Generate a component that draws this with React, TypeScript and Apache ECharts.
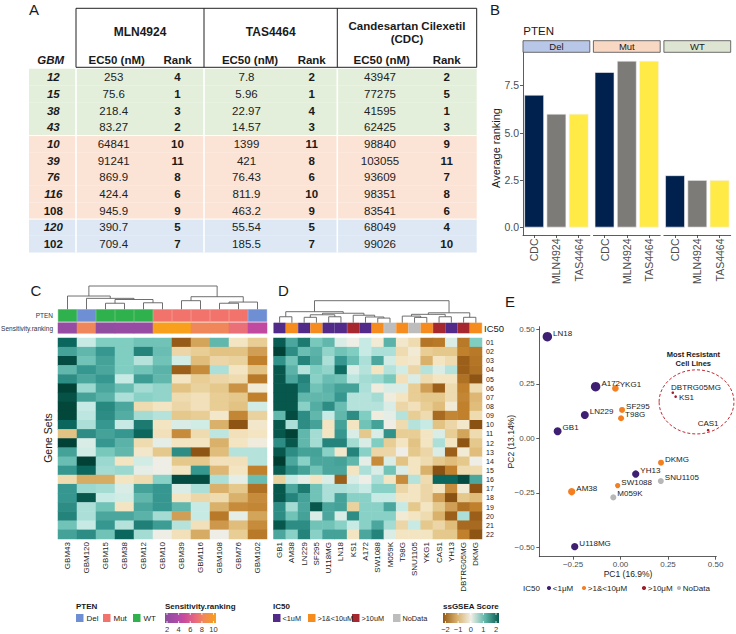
import React, { useEffect, useRef } from "react";
import * as echarts from "echarts";

const FONT = "'Liberation Sans', Arial, Helvetica, sans-serif";
const INK = "#1a1a1a";
const AXIS = "#333333";
const TICKTXT = "#4d4d4d";

// ---------------- Panel A : drug sensitivity table ----------------
const gbmIds = ["12", "15", "38", "43", "10", "39", "76", "116", "108", "120", "102"];
const gbmPten = ["WT", "WT", "WT", "WT", "Mut", "Mut", "Mut", "Mut", "Mut", "Del", "Del"];
const gbmUpright = ["108", "102"];
const mlnEC50 = [253, 75.6, 218.4, 83.27, 64841, 91241, 869.9, 424.4, 945.9, 390.7, 709.4];
const mlnRank = [4, 1, 3, 2, 10, 11, 8, 6, 9, 5, 7];
const tasEC50 = [7.8, 5.96, 22.97, 14.57, 1399, 421, 76.43, 811.9, 463.2, 55.54, 185.5];
const tasRank = [2, 1, 4, 3, 11, 8, 6, 10, 9, 5, 7];
const cdcEC50 = [43947, 77275, 41595, 62425, 98840, 103055, 93609, 98351, 83541, 68049, 99026];
const cdcRank = [2, 5, 1, 3, 9, 11, 7, 8, 6, 4, 10];
const drugHeaders = ["MLN4924", "TAS4464", "Candesartan Cilexetil", "(CDC)"];

// ---------------- Panel B : average ranking ----------------
const drugs = ["CDC", "MLN4924", "TAS4464"];
const ptenGroups = ["Del", "Mut", "WT"];
const avgRankDel = [7.0, 6.0, 6.0];
const avgRankMut = [8.2, 8.8, 8.8];
const avgRankWT = [2.75, 2.5, 2.5];
const avgRankTicks = [0, 2.5, 5, 7.5];

// ---------------- Panel C : GBM ssGSEA heatmap ----------------
const geneSets = ["01", "02", "03", "04", "05", "06", "07", "08", "09", "10", "11", "12", "13", "14", "15", "16", "17", "18", "19", "20", "21", "22"];
const cCols = ["GBM43", "GBM120", "GBM15", "GBM38", "GBM12", "GBM10", "GBM39", "GBM116", "GBM108", "GBM76", "GBM102"];
const cPten = ["WT", "Del", "WT", "WT", "WT", "Mut", "Mut", "Mut", "Mut", "Mut", "Del"];
const cSens = [2.67, 8, 2.33, 2.67, 2.67, 10, 10, 8, 8, 7, 4.67];
const cScores = [
  [1.6, 0.2, 0.6, 0.6, 0.7, 0.7, -1.6, -0.8, 0.8, -0.2, -0.45],
  [1.0, 0.8, 1.1, 0.6, 1.3, 0.75, -0.35, -0.45, -0.55, -0.55, -0.85],
  [1.85, 0.7, 1.0, 0.6, 0.3, 0.7, 0.15, -0.6, -0.35, -0.4, -1.1],
  [0.8, 1.1, 0.95, 0.6, 0.7, 0.85, -1.55, -1.0, 0.35, -0.2, -0.55],
  [1.2, 0.95, 1.1, 0.2, 1.05, 0.8, -0.2, -0.45, -0.35, -0.3, -1.2],
  [1.95, 0.45, 0.95, 0.75, 0.4, 0.5, -0.55, -0.4, -0.5, -0.95, -0.1],
  [1.8, 1.0, 0.85, 0.35, 0.55, 0.5, -0.3, -0.25, -0.45, -0.5, -1.1],
  [1.9, 0.2, 1.25, 0.95, -0.3, -0.2, -0.35, -0.25, -0.45, -0.55, 0.15],
  [1.9, 0.25, 1.2, 0.9, 0.4, 0.3, -0.5, -0.45, -0.15, -1.05, -0.4],
  [1.6, 0.35, 1.1, 0.2, 1.4, -0.2, 0.1, 0.15, -0.7, -1.7, -0.15],
  [-0.55, 1.2, 1.0, 1.1, 1.6, -0.25, -1.0, -0.3, 0.25, -0.25, -0.2],
  [1.95, 0.1, 1.1, 0.85, -0.3, 0.05, -0.2, -0.2, -0.7, -0.2, -0.05],
  [1.0, 0.15, 0.65, 0.8, -0.15, -0.5, 1.2, -1.7, -0.6, 0.3, 0.3],
  [0.75, 1.95, 0.45, -0.2, 0.15, 0.0, -0.5, -0.5, -0.25, -0.25, 0.3],
  [1.1, 1.6, 0.4, 0.45, 0.05, 0.0, -0.2, 1.1, -0.65, -0.2, -1.1],
  [-0.3, -0.75, -0.75, -0.2, -0.3, 0.55, 1.85, 1.85, 0.35, 0.05, 0.75],
  [1.1, 0.45, 0.4, 0.1, 1.0, 1.1, 0.1, 0.35, -0.7, -0.5, -1.3],
  [1.1, 1.75, 0.2, 0.15, 0.8, 1.1, -0.2, -0.35, -0.3, -0.7, -1.0],
  [1.2, 0.35, 0.7, -0.2, 0.95, 1.1, 0.8, 0.2, -0.7, -1.0, -1.05],
  [1.3, 0.35, 0.95, 0.95, 0.85, 0.4, -0.85, 0.2, -1.2, 0.05, -0.8],
  [0.7, 0.2, 1.1, 0.3, 1.35, 1.05, 0.3, -0.25, -0.9, -0.6, -1.0],
  [1.0, 1.2, 0.7, 1.6, 0.4, 0.0, -0.25, -0.75, 0.0, -0.45, -1.2],
];
// dendrogram: [left, right, height(0..1)]
const cTree: any = [
  ["GBM43", ["GBM120", [["GBM15", "GBM38", 0.26], ["GBM12", "GBM10", 0.28], 0.42], 0.47], 0.57],
  [["GBM39", "GBM116", 0.37], [["GBM108", "GBM76", 0.26], "GBM102", 0.31], 0.54],
  1.0,
];

// ---------------- Panel D : cell line ssGSEA heatmap ----------------
const dCols = ["GB1", "AM38", "LN229", "SF295", "U118MG", "LN18", "KS1", "A172", "SW1088", "M059K", "T98G", "SNU1105", "YKG1", "CAS1", "YH13", "DBTRG05MG", "DKMG"];
const dIC50 = ["<1uM", ">1&<10uM", "<1uM", ">1&<10uM", "<1uM", "<1uM", ">10uM", "<1uM", ">1&<10uM", "NoData", ">1&<10uM", "NoData", ">1&<10uM", ">10uM", "<1uM", ">10uM", ">1&<10uM"];
const dScores = [
  [1.7, 0.95, 1.4, 0.65, 0.8, 0.1, 0.0, 0.2, -0.1, 0.85, -0.15, -0.3, -1.25, -1.2, 0.1, -1.2, 0.6],
  [1.95, 1.2, 0.75, 0.85, 0.5, 0.7, 0.6, 0.2, 0.35, 0.35, -0.3, -0.1, -0.45, -0.5, -0.5, -1.1, -1.2],
  [1.15, 0.7, 1.3, 0.9, 0.35, 1.1, 0.75, 0.35, 0.95, 0.15, -0.2, -0.15, -0.7, -0.2, -0.3, -1.55, -1.25],
  [1.75, 0.85, 0.3, 0.6, 0.5, 1.55, 0.1, 0.3, -0.2, 0.3, 0.15, -0.35, 0.3, 0.1, 0.3, -1.55, -1.3],
  [1.75, 0.95, 1.3, 0.55, 0.75, 0.7, 0.25, 0.4, 0.45, 0.65, -0.25, 0.1, -0.3, -0.2, -0.2, -1.3, -1.7],
  [1.75, 1.75, 1.2, 0.7, 0.85, 1.0, 1.0, 0.35, -0.05, 0.1, 0.1, -0.45, -0.85, -1.55, -0.3, -1.1, -0.3],
  [1.75, 1.75, 0.8, 0.8, 0.8, 1.1, 0.3, 0.3, 0.4, -0.05, -0.2, -0.45, -0.5, -0.5, -0.3, -1.05, -0.65],
  [1.75, 1.75, 0.55, 0.9, 1.2, 0.75, 0.3, 0.3, 0.3, 0.1, -0.35, -0.25, -0.45, -0.6, -0.1, -1.1, -0.6],
  [0.8, 1.85, 1.2, 0.8, 0.2, 0.8, 1.2, 0.6, -0.05, 0.05, 0.3, -0.45, -0.3, -1.4, -1.05, -1.1, -0.3],
  [1.75, 0.35, 1.2, 1.0, -0.2, 1.0, -0.2, 0.7, 1.0, 0.0, -0.3, 0.3, 0.2, -0.55, -0.35, -0.15, -1.75],
  [1.75, 1.95, 0.8, 0.4, -0.2, 1.1, 0.1, -0.5, 0.1, 1.15, -0.45, -0.45, -0.2, 0.1, -0.45, -0.8, -0.3],
  [1.2, 1.75, 0.8, 0.4, 1.3, 1.3, 0.4, 0.1, 0.6, -0.45, -0.2, -0.55, -0.2, 0.35, -0.2, -1.7, -0.5],
  [1.75, 1.2, 1.0, 1.0, 0.55, -0.15, 1.3, 0.55, -0.35, -0.35, 0.0, -0.5, -0.35, 0.1, -1.55, -0.1, -0.6],
  [2.0, 0.95, 0.55, 0.95, 0.95, 1.0, 0.8, 0.05, -1.0, 0.1, -0.55, -0.2, -0.3, -0.5, -0.6, -0.5, 0.0],
  [1.7, 1.2, 1.0, 0.7, 0.95, 0.95, -0.2, 0.35, 0.1, 0.7, 0.1, -0.2, -0.7, -1.75, -1.1, -0.3, -0.3],
  [-0.4, 0.2, 0.05, -0.2, 0.1, -1.55, 0.1, 0.0, 0.35, -0.2, -1.0, 0.3, -0.3, 1.6, 1.6, 1.85, 0.95],
  [1.75, 0.95, 1.4, 0.7, 0.35, 0.35, 0.3, 0.2, 0.55, 0.55, -0.35, -0.2, -0.35, -0.2, -1.0, -0.1, -1.7],
  [1.75, 1.3, 1.0, 0.7, 0.35, 1.0, 0.55, 0.55, 0.2, 0.2, -0.2, -0.2, -0.35, -0.85, -1.75, -0.5, -0.6],
  [1.2, 0.4, 0.95, 1.75, 0.95, 1.0, -0.4, 0.55, 0.55, 0.95, 0.2, -0.5, -0.2, -0.5, -0.85, -1.3, -1.1],
  [1.2, 0.7, 1.0, 0.1, 0.95, 0.1, 1.2, 0.55, 0.55, 0.55, -0.1, -0.2, -0.3, -0.7, -1.55, 0.35, -1.55],
  [1.75, 1.2, 1.2, 0.7, 0.7, 0.55, 0.2, 0.55, 0.95, 0.4, -0.35, 0.2, -0.5, -0.35, -0.6, -1.4, -1.4],
  [0.95, 0.55, 1.3, 0.55, 1.0, 1.0, -0.2, 0.95, 1.3, 0.1, -0.2, -0.2, -0.2, -0.5, -0.5, -1.1, -1.7],
];
const dTree: any = [
  [["GB1", "AM38", 0.27], [[["LN229", "SF295", 0.245], ["U118MG", "LN18", 0.27], 0.36], ["KS1", ["A172", ["SW1088", "M059K", 0.21], 0.26], 0.34], 0.43], 0.5],
  [[["T98G", ["SNU1105", "YKG1", 0.24], 0.3], ["CAS1", "YH13", 0.27], 0.38], ["DBTRG05MG", "DKMG", 0.245], 0.45],
  1.0,
];

// ---------------- Panel E : PCA ----------------
const eNames = ["LN18", "A172", "YKG1", "SF295", "T98G", "LN229", "GB1", "DBTRG05MG", "KS1", "CAS1", "DKMG", "YH13", "SNU1105", "SW1088", "M059K", "AM38", "U118MG"];
const ePC1 = [-0.385, -0.131, -0.027, 0.008, 0.003, -0.188, -0.331, 0.275, 0.29, 0.461, 0.213, 0.08, 0.212, -0.015, -0.038, -0.257, -0.241];
const ePC2 = [0.466, 0.237, 0.229, 0.13, 0.092, 0.107, 0.032, 0.209, 0.191, 0.037, -0.112, -0.164, -0.196, -0.217, -0.271, -0.245, -0.497];
const eIC50 = ["<1uM", "<1uM", ">1&<10uM", ">1&<10uM", ">1&<10uM", "<1uM", "<1uM", ">10uM", ">10uM", ">10uM", ">1&<10uM", "<1uM", "NoData", ">1&<10uM", "NoData", ">1&<10uM", "<1uM"];
const ePointSize = [9.5, 9.5, 6.7, 6, 6, 8, 8, 2.6, 2.6, 2.6, 6, 7.3, 6, 5.3, 6, 7.3, 7.3];
const ePCticks = [-0.5, -0.25, 0, 0.25, 0.5];
const resistantCenter = [0.4, 0.167];
const resistantRadius = [0.197, 0.147];

// ---------------- styles ----------------
const ic50Keys = ["<1uM", ">1&<10uM", ">10uM", "NoData"];
const ic50HeatColors: any = { "<1uM": "#512a8a", ">1&<10uM": "#f78c1e", ">10uM": "#a6282e", NoData: "#bdbdbd" };
const ic50PointColors: any = { "<1uM": "#3f1f72", ">1&<10uM": "#f47f21", ">10uM": "#9c1f2a", NoData: "#b7b7b7" };
const ic50PointLabels: any = { "<1uM": "<1μM", ">1&<10uM": ">1&<10μM", ">10uM": ">10μM", NoData: "NoData" };
const ptenColors: any = { Del: "#6f8fd4", Mut: "#f2736b", WT: "#2fb14d" };
const stripFill: any = { Del: "#b8c6e8", Mut: "#f9d8c3", WT: "#dde5d2" };
const tableFill: any = { WT: "#e3efda", Mut: "#fbe3d5", Del: "#dde8f4" };
const drugColors = ["#00204D", "#7C7B78", "#FFEA46"];
const ssAnchors: [number, string][] = [
  [-2, "#6e3f08"], [-1.7, "#8e5414"], [-1.1, "#c0802c"], [-0.55, "#e3c383"], [-0.2, "#f3e5c2"],
  [0, "#eeeee6"], [0.2, "#c7eae5"], [0.6, "#80cdc1"], [1.1, "#35978f"], [1.6, "#0b675d"], [2, "#003c30"],
];
const sensAnchors: [number, string][] = [
  [2, "#8a4d9e"], [4, "#b04aa8"], [5, "#c94a9c"], [7, "#ea6f77"], [8, "#f0875a"], [10, "#f8a01c"],
];
const labelNudge: any = {
  DBTRG05MG: { offset: [-4, -5.5] },
  KS1: { offset: [1, 0.5] },
  CAS1: { position: "top", distance: 1, offset: [0, 0] },
};

function hex2rgb(h: string) {
  const n = parseInt(h.slice(1), 16);
  return [(n >> 16) & 255, (n >> 8) & 255, n & 255];
}
function lerpHex(a: string, b: string, t: number) {
  const A = hex2rgb(a), B = hex2rgb(b);
  return "#" + A.map((v, i) => Math.round(v + (B[i] - v) * t).toString(16).padStart(2, "0")).join("");
}
function ramp(anchors: [number, string][], v: number) {
  if (v <= anchors[0][0]) return anchors[0][1];
  for (let i = 1; i < anchors.length; i++) {
    if (v <= anchors[i][0]) {
      const [v0, c0] = anchors[i - 1];
      const [v1, c1] = anchors[i];
      return lerpHex(c0, c1, (v - v0) / (v1 - v0));
    }
  }
  return anchors[anchors.length - 1][1];
}
function palette(anchors: [number, string][], min: number, max: number, n: number) {
  const out: string[] = [];
  for (let k = 0; k < n; k++) out.push(ramp(anchors, min + ((max - min) * k) / (n - 1)));
  return out;
}
const minus = (s: string) => s.replace("-", "−");

// ---------------- layout ----------------
const B = { lefts: [523, 593.4, 663.9], w: 66.8, top: 52.5, h: 182.5, stripTop: 40.7, stripH: 11.6 };
const C = { left: 58, w: 209, ptenTop: 309.3, ptenH: 12.4, sensTop: 322.7, sensH: 10.6, top: 338, h: 201, dendTop: 286 };
const D = { left: 273.5, w: 208.5, barTop: 322.7, barH: 10.6, top: 338, h: 201, dendTop: 300.7 };
const E = { left: 539.3, top: 326.7, w: 177, h: 230 };

function buildOption() {
  const gridBase = { containLabel: false, outerBoundsMode: "none" };
  const grid: any[] = [
    ...B.lefts.map((l) => ({ ...gridBase, left: l, top: B.top, width: B.w, height: B.h })),
    { ...gridBase, left: C.left, top: C.ptenTop, width: C.w, height: C.ptenH },
    { ...gridBase, left: C.left, top: C.sensTop, width: C.w, height: C.sensH },
    { ...gridBase, left: C.left, top: C.top, width: C.w, height: C.h },
    { ...gridBase, left: D.left, top: D.barTop, width: D.w, height: D.barH },
    { ...gridBase, left: D.left, top: D.top, width: D.w, height: D.h },
    { ...gridBase, left: E.left, top: E.top, width: E.w, height: E.h },
  ];
  const axLine = { show: true, onZero: false, lineStyle: { color: AXIS, width: 0.8 } };
  const axTick = { show: true, length: 3, lineStyle: { color: AXIS, width: 0.8 } };
  const hiddenCat = (data: string[], gridIndex: number) => ({ type: "category", gridIndex, data, show: false });
  const bRange = { min: -0.4, max: 9.24 };

  const xAxis: any[] = [
    ...[0, 1, 2].map((i) => ({
      type: "category", gridIndex: i, data: drugs,
      axisLine: axLine, axisTick: { ...axTick, alignWithLabel: true },
      axisLabel: { rotate: 90, fontSize: 10.5, color: TICKTXT, margin: 3.5, fontFamily: FONT },
      splitLine: { show: false },
    })),
    hiddenCat(cCols, 3),
    hiddenCat(cCols, 4),
    {
      type: "category", gridIndex: 5, data: cCols,
      axisLine: { show: false }, axisTick: { show: false }, splitLine: { show: false },
      axisLabel: { rotate: 90, fontSize: 8, color: INK, margin: 3, fontFamily: FONT },
    },
    hiddenCat(dCols, 6),
    {
      type: "category", gridIndex: 7, data: dCols,
      axisLine: { show: false }, axisTick: { show: false }, splitLine: { show: false },
      axisLabel: { rotate: 90, fontSize: 8, color: INK, margin: 3, fontFamily: FONT },
    },
    {
      type: "value", gridIndex: 8, min: -0.4274, max: 0.504,
      axisLine: axLine, axisTick: { ...axTick, customValues: ePCticks.slice(1) },
      axisLabel: { customValues: ePCticks.slice(1), formatter: (v: number) => minus(v.toFixed(2)), fontSize: 8, color: TICKTXT, margin: 4, fontFamily: FONT },
      splitLine: { show: false },
    },
  ];
  const yAxis: any[] = [
    {
      type: "value", gridIndex: 0, ...bRange,
      axisLine: axLine, axisTick: { ...axTick, customValues: avgRankTicks },
      axisLabel: { customValues: avgRankTicks, formatter: (v: number) => v.toFixed(1), fontSize: 10.5, color: TICKTXT, margin: 4, fontFamily: FONT },
      splitLine: { show: false },
    },
    { type: "value", gridIndex: 1, ...bRange, show: false, splitLine: { show: false } },
    { type: "value", gridIndex: 2, ...bRange, show: false, splitLine: { show: false } },
    { type: "value", gridIndex: 3, min: 0, max: 1, show: false, splitLine: { show: false } },
    { type: "category", gridIndex: 4, data: ["Sensitivity.ranking"], show: false },
    { type: "category", gridIndex: 5, data: geneSets, inverse: true, show: false },
    { type: "value", gridIndex: 6, min: 0, max: 1, show: false, splitLine: { show: false } },
    {
      type: "category", gridIndex: 7, data: geneSets, inverse: true, position: "right",
      axisLine: { show: false }, axisTick: { show: false }, splitLine: { show: false },
      axisLabel: { fontSize: 7, color: INK, margin: 4, fontFamily: FONT },
    },
    {
      type: "value", gridIndex: 8, min: -0.5431, max: 0.5119,
      axisLine: axLine, axisTick: { ...axTick, customValues: ePCticks },
      axisLabel: { customValues: ePCticks, formatter: (v: number) => minus(v.toFixed(2)), fontSize: 8, color: TICKTXT, margin: 4.5, fontFamily: FONT },
      splitLine: { show: false },
    },
  ];

  const bSets = [avgRankDel, avgRankMut, avgRankWT];
  const series: any[] = [
    ...bSets.map((vals, i) => ({
      type: "bar", name: ptenGroups[i], xAxisIndex: i, yAxisIndex: i,
      barCategoryGap: "12%",
      data: vals.map((v, j) => ({ value: v, itemStyle: { color: drugColors[j] } })),
      itemStyle: { borderColor: "#f2f2f2", borderWidth: 0.6 },
    })),
    {
      type: "bar", name: "PTEN", xAxisIndex: 3, yAxisIndex: 3, barCategoryGap: "0%",
      data: cPten.map((p) => ({ value: 1, itemStyle: { color: ptenColors[p], borderColor: ptenColors[p], borderWidth: 0.4 } })),
    },
    {
      type: "heatmap", name: "Sensitivity.ranking", xAxisIndex: 4, yAxisIndex: 4,
      data: cSens.map((v, i) => [i, 0, v]),
    },
    {
      type: "heatmap", name: "GBM ssGSEA", xAxisIndex: 5, yAxisIndex: 5,
      data: cScores.flatMap((row, r) => row.map((v, c) => [c, r, v])),
    },
    {
      type: "bar", name: "IC50", xAxisIndex: 6, yAxisIndex: 6, barCategoryGap: "0%",
      data: dIC50.map((k) => ({ value: 1, itemStyle: { color: ic50HeatColors[k], borderColor: ic50HeatColors[k], borderWidth: 0.4 } })),
    },
    {
      type: "heatmap", name: "Cell line ssGSEA", xAxisIndex: 7, yAxisIndex: 7,
      data: dScores.flatMap((row, r) => row.map((v, c) => [c, r, v])),
    },
    ...ic50Keys.map((key) => ({
      type: "scatter", name: ic50PointLabels[key], xAxisIndex: 8, yAxisIndex: 8,
      symbolSize: (d: number[]) => d[2],
      itemStyle: { color: ic50PointColors[key], opacity: 1 },
      label: { show: true, formatter: (p: any) => p.name, position: "right", distance: 1, offset: [0, -3.5], fontSize: 8, color: INK, fontFamily: FONT },
      data: eNames
        .map((n, i) => ({ n, i }))
        .filter(({ i }) => eIC50[i] === key)
        .map(({ n, i }) => ({ name: n, value: [ePC1[i], ePC2[i], ePointSize[i]], ...(labelNudge[n] ? { label: labelNudge[n] } : {}) })),
    })),
  ];

  return {
    animation: false,
    backgroundColor: "#ffffff",
    textStyle: { fontFamily: FONT },
    grid, xAxis, yAxis, series,
    visualMap: [
      { type: "continuous", show: false, min: -2, max: 2, seriesIndex: [5, 7], inRange: { color: palette(ssAnchors, -2, 2, 81) } },
      { type: "continuous", show: false, min: 2, max: 10, seriesIndex: [4], inRange: { color: palette(sensAnchors, 2, 10, 81) } },
    ],
  };
}

function buildGraphics(chart: any) {
  const els: any[] = [];
  const text = (x: number, y: number, t: string, size: number, o: any = {}) =>
    els.push({
      type: "text", x, y, silent: true, z: 60, rotation: o.rotation || 0,
      style: {
        text: t, fill: o.color || INK,
        font: `${o.italic ? "italic" : "normal"} ${o.bold ? "bold" : "normal"} ${size}px ${FONT}`,
        align: o.align || "left", verticalAlign: o.valign || "middle",
        textAlign: o.align || "left", textVerticalAlign: o.valign || "middle",
      },
    });
  const rect = (x: number, y: number, w: number, h: number, style: any, z = 40) =>
    els.push({ type: "rect", silent: true, z, shape: { x, y, width: w, height: h }, style });
  const line = (x1: number, y1: number, x2: number, y2: number, stroke: string, lw = 1, z = 45) =>
    els.push({ type: "line", silent: true, z, shape: { x1, y1, x2, y2 }, style: { stroke, lineWidth: lw } });

  // panel letters
  text(29, 9.5, "A", 15);
  text(490, 9, "B", 15);
  text(30.5, 290.5, "C", 15);
  text(278, 290.5, "D", 15);
  text(505, 301.7, "E", 15);

  // ---- table A ----
  const T = { left: 29, right: 476.7, box: 76, div1: 204, div2: 337.3, top: 8.3, bottom: 67.3, row0: 68.8, rowH: 16.7 };
  gbmIds.forEach((_, i) => rect(T.left, T.row0 + i * T.rowH, T.right - T.left, T.rowH, { fill: tableFill[gbmPten[i]] }, 30));
  gbmIds.forEach((_, i) => {
    if (i > 0 && gbmPten[i] !== gbmPten[i - 1]) line(T.left, T.row0 + i * T.rowH, T.right, T.row0 + i * T.rowH, "#ffffff", 1, 31);
  });
  const bodyBottom = T.row0 + gbmIds.length * T.rowH;
  [T.box, T.div1, T.div2].forEach((x) => line(x, T.bottom, x, bodyBottom, "#ffffff", 1.6, 31));
  rect(T.box, T.top, T.right - T.box, T.bottom - T.top, { fill: "#ffffff", stroke: "#222222", lineWidth: 1 }, 32);
  line(T.div1, T.top, T.div1, T.bottom, "#222222", 1, 33);
  line(T.div2, T.top, T.div2, T.bottom, "#222222", 1, 33);
  const headX = [140, 270.7, 407];
  text(headX[0], 31.7, drugHeaders[0], 12, { bold: true, align: "center" });
  text(headX[1], 31.7, drugHeaders[1], 12, { bold: true, align: "center" });
  text(headX[2], 26.3, drugHeaders[2], 11.5, { bold: true, align: "center" });
  text(headX[2], 38.6, drugHeaders[3], 11.5, { bold: true, align: "center" });
  const ecHeadX = [116.7, 250, 381.7];
  const rankX = [177.5, 311.7, 446.7];
  const ecX = [113.7, 246.5, 380];
  text(50.7, 60, "GBM", 11.5, { bold: true, italic: true, align: "center" });
  ecHeadX.forEach((x) => text(x, 60, "EC50 (nM)", 11.5, { bold: true, align: "center" }));
  rankX.forEach((x) => text(x, 60, "Rank", 11.5, { bold: true, align: "center" }));
  const ecs = [mlnEC50, tasEC50, cdcEC50];
  const ranks = [mlnRank, tasRank, cdcRank];
  gbmIds.forEach((id, i) => {
    const y = T.row0 + i * T.rowH + T.rowH / 2;
    text(53.3, y, id, 11.5, { bold: true, italic: !gbmUpright.includes(id), align: "center" });
    ecs.forEach((arr, k) => text(ecX[k], y, String(arr[i]), 11.5, { align: "center", color: "#222" }));
    ranks.forEach((arr, k) => text(rankX[k], y, String(arr[i]), 11.5, { bold: true, align: "center" }));
  });

  // ---- panel B ----
  text(523.3, 31.3, "PTEN", 11.5);
  ptenGroups.forEach((g, i) => {
    rect(B.lefts[i], B.stripTop, B.w, B.stripH, { fill: stripFill[g], stroke: "#4a4a4a", lineWidth: 0.8 });
    text(B.lefts[i] + B.w / 2, B.stripTop + B.stripH / 2, g, 9.5, { align: "center" });
  });
  text(496, 148, "Average ranking", 11, { rotation: Math.PI / 2, align: "center" });

  // ---- panel C annotations ----
  text(53, C.ptenTop + C.ptenH / 2, "PTEN", 6.5, { align: "right", color: "#333" });
  text(53, C.sensTop + C.sensH / 2, "Sensitivity.ranking", 6.5, { align: "right", color: "#333" });
  text(48, 438, "Gene Sets", 10.5, { rotation: Math.PI / 2, align: "center" });

  // dendrograms
  const drawTree = (tree: any, axisIndex: number, leafY: number, topY: number, out: any[]) => {
    const span = leafY - topY;
    const walk = (node: any): { x: number; y: number } => {
      if (typeof node === "string") {
        return { x: chart.convertToPixel({ xAxisIndex: axisIndex }, node), y: leafY };
      }
      const l = walk(node[0]);
      const r = walk(node[1]);
      const y = leafY - node[2] * span;
      out.push({
        type: "polyline", silent: true, z: 45,
        shape: { points: [[l.x, l.y], [l.x, y], [r.x, y], [r.x, r.y]] },
        style: { stroke: "#5f5f5f", lineWidth: 0.9, fill: "none" },
      });
      return { x: (l.x + r.x) / 2, y };
    };
    walk(tree);
  };
  drawTree(cTree, 5, C.ptenTop, C.dendTop, els);
  drawTree(dTree, 7, D.barTop, D.dendTop, els);

  text(484, D.barTop + D.barH / 2 + 0.3, "IC50", 9.5);

  // ---- legends under C/D ----
  text(76, 606, "PTEN", 8, { bold: true });
  const ptenLegX = [76, 103, 133];
  ["Del", "Mut", "WT"].forEach((g, i) => {
    rect(ptenLegX[i], 614, 7.5, 8, { fill: ptenColors[g] });
    text(ptenLegX[i] + 10.5, 618.3, g, 8);
  });
  text(165, 606, "Sensitivity.ranking", 8, { bold: true });
  const sensStops = sensAnchors.map(([v, c]) => ({ offset: (v - 2) / 8, color: c }));
  rect(165, 613, 51, 10, { fill: new echarts.graphic.LinearGradient(0, 0, 1, 0, sensStops) });
  [2, 4, 6, 8, 10].forEach((v) => {
    const x = 167 + ((v - 2) / 8) * 46.5;
    line(x, 613, x, 615, "#ffffff", 0.8, 46);
    line(x, 621, x, 623, "#ffffff", 0.8, 46);
    text(x, 629, String(v), 7.5, { align: "center", color: "#333" });
  });

  text(273, 606, "IC50", 8, { bold: true });
  const icLegX = [273, 308, 352, 393];
  const icLegTxt = ["<1uM", ">1&<10uM", ">10uM", "NoData"];
  ic50Keys.forEach((k, i) => {
    rect(icLegX[i], 614, 7.5, 8, { fill: ic50HeatColors[k] });
    text(icLegX[i] + 9.5, 618.3, icLegTxt[i], 7.3);
  });
  text(443, 606, "ssGSEA Score", 8, { bold: true });
  const ssLegStops = [
    { offset: 0, color: "#955a17" }, { offset: 0.25, color: "#d8b06a" }, { offset: 0.5, color: "#f0efe6" },
    { offset: 0.75, color: "#5fb6a9" }, { offset: 1, color: "#0a5a50" },
  ];
  rect(443, 613, 56, 10, { fill: new echarts.graphic.LinearGradient(0, 0, 1, 0, ssLegStops) });
  [-2, -1, 0, 1, 2].forEach((v) => {
    const x = 445.5 + ((v + 2) / 4) * 50.5;
    line(x, 613, x, 615, "#ffffff", 0.8, 46);
    line(x, 621, x, 623, "#ffffff", 0.8, 46);
    text(x, 629, minus(String(v)), 7.5, { align: "center", color: "#333" });
  });

  // ---- panel E ----
  text(628, 574, "PC1 (16.9%)", 8.5, { align: "center" });
  text(510.7, 441.7, "PC2 (13.14%)", 8.5, { rotation: Math.PI / 2, align: "center" });
  const c0 = chart.convertToPixel({ gridIndex: 8 }, resistantCenter);
  const c1 = chart.convertToPixel({ gridIndex: 8 }, [resistantCenter[0] + resistantRadius[0], resistantCenter[1] + resistantRadius[1]]);
  els.push({
    type: "ellipse", silent: true, z: 44,
    shape: { cx: c0[0], cy: c0[1], rx: Math.abs(c1[0] - c0[0]), ry: Math.abs(c1[1] - c0[1]) },
    style: { fill: "none", stroke: "#c62a32", lineWidth: 1, lineDash: [3, 2] },
  });
  text(693.3, 354.3, "Most Resistant", 7.5, { bold: true, align: "center" });
  text(693.3, 363.5, "Cell Lines", 7.5, { bold: true, align: "center" });
  text(523, 588, "IC50", 8);
  const eLegDot = [549, 584, 644, 679];
  ic50Keys.forEach((k, i) => {
    els.push({ type: "circle", silent: true, z: 50, shape: { cx: eLegDot[i], cy: 588, r: 2.1 }, style: { fill: ic50PointColors[k] } });
    text(eLegDot[i] + 3.8, 588, ic50PointLabels[k], 8);
  });

  return els;
}

export default function App() {
  const ref = useRef<HTMLDivElement>(null);
  useEffect(() => {
    if (!ref.current) return;
    const chart = echarts.init(ref.current, undefined, { renderer: "svg" });
    chart.setOption(buildOption() as any);
    chart.setOption({ graphic: { elements: buildGraphics(chart) } } as any);
    return () => chart.dispose();
  }, []);
  return (
    <div
      ref={ref}
      style={{ position: "absolute", left: 0, top: 0, width: 736, height: 634, background: "#ffffff" }}
    />
  );
}
